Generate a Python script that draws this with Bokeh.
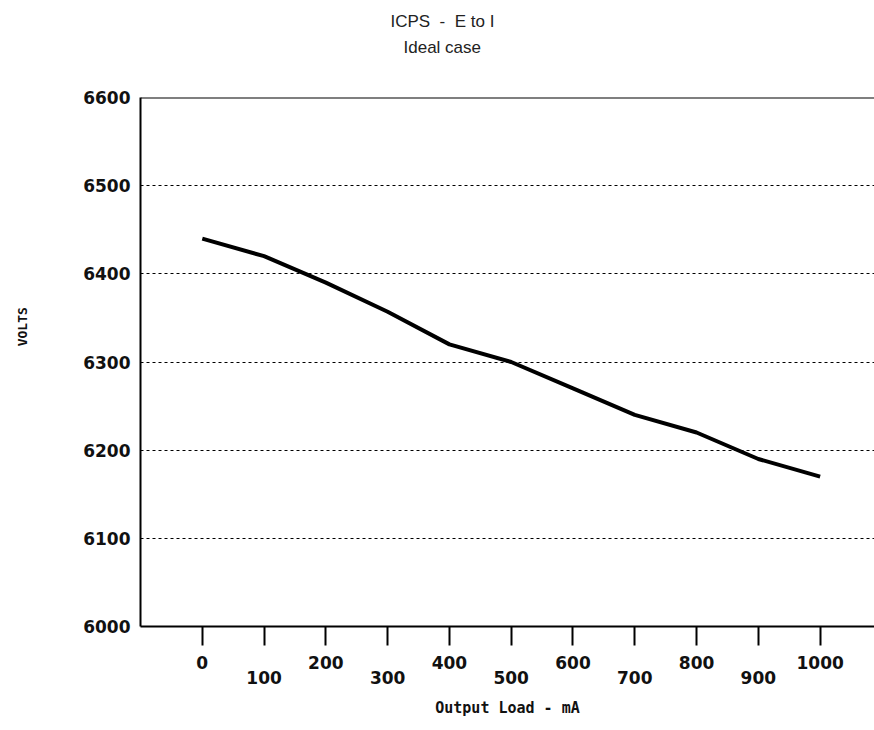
from bokeh.plotting import figure
from bokeh.models import Span, FixedTicker, Range1d, Title
from bokeh.embed import file_html
from bokeh.resources import INLINE

# data
load_ma = [0, 100, 200, 300, 400, 500, 600, 700, 800, 900, 1000]
volts = [6440, 6420, 6390, 6357, 6320, 6300, 6270, 6240, 6220, 6190, 6170]
x_ticks = [0, 100, 200, 300, 400, 500, 600, 700, 800, 900, 1000]
y_ticks = [6000, 6100, 6200, 6300, 6400, 6500, 6600]
grid_ticks = [6100, 6200, 6300, 6400, 6500]
title_lines = ["ICPS\u00a0\u00a0-\u00a0\u00a0E to I", "Ideal case"]

NB = "\u00a0"
W, H = 874, 730
p = figure(width=W, height=H, output_backend="svg", toolbar_location=None,
           x_range=Range1d(-100, 1088), y_range=Range1d(6000, 6600),
           min_border_left=140, min_border_right=0, min_border_top=97,
           min_border_bottom=104)
p.outline_line_color = None
p.background_fill_color = "white"
p.border_fill_color = "white"

p.line(load_ma, volts, line_color="black", line_width=4)

# grid
p.xgrid.visible = False
p.ygrid.ticker = FixedTicker(ticks=grid_ticks)
p.ygrid.grid_line_color = "black"
p.ygrid.grid_line_dash = "3 3"
p.ygrid.grid_line_width = 1

# top border
p.add_layout(Span(location=6600, dimension="width", line_color="black", line_width=2))

tick_font = "DejaVu Sans"
# y axis
p.yaxis.ticker = FixedTicker(ticks=y_ticks)
p.yaxis.major_tick_out = 0
p.yaxis.major_tick_in = 0
p.yaxis.minor_tick_out = 0
p.yaxis.minor_tick_in = 0
p.yaxis.axis_line_width = 2
p.yaxis.axis_line_color = "black"
p.yaxis.major_label_standoff = 10
p.yaxis.major_label_text_font = tick_font
p.yaxis.major_label_text_font_style = "bold"
p.yaxis.major_label_text_font_size = "17px"
p.yaxis.major_label_text_color = "#111111"
p.yaxis.axis_label = NB * 9 + "VOLTS"
p.yaxis.axis_label_standoff = 50
p.yaxis.axis_label_text_font = "DejaVu Sans Mono"
p.yaxis.axis_label_text_font_style = "bold"
p.yaxis.axis_label_text_font_size = "13px"
p.yaxis.axis_label_text_color = "#111111"

# x axis
p.xaxis.ticker = FixedTicker(ticks=x_ticks)
p.xaxis.major_tick_out = 19
p.xaxis.major_tick_in = 0
p.xaxis.minor_tick_out = 0
p.xaxis.minor_tick_in = 0
p.xaxis.major_tick_line_width = 2
p.xaxis.axis_line_width = 2
p.xaxis.axis_line_color = "black"
p.xaxis.major_label_standoff = 7
p.xaxis.major_label_text_font = tick_font
p.xaxis.major_label_text_font_style = "bold"
p.xaxis.major_label_text_font_size = "17px"
p.xaxis.major_label_text_line_height = 0.75
p.xaxis.major_label_text_color = "#111111"
p.xaxis.major_label_overrides = {t: (str(t) if i % 2 == 0 else "\n" + str(t))
                                 for i, t in enumerate(x_ticks)}
p.xaxis.axis_label = "Output Load - mA"
p.xaxis.axis_label_standoff = 8
p.xaxis.axis_label_text_font = "DejaVu Sans Mono"
p.xaxis.axis_label_text_font_style = "bold"
p.xaxis.axis_label_text_font_size = "15px"
p.xaxis.axis_label_text_color = "#111111"

# title lines (stacked above the frame; later ones sit higher)
p.add_layout(Title(text=" ", text_font_size="23px"), "above")
p.add_layout(Title(text=title_lines[1], align="left", offset=263, standoff=5,
                   text_font="Liberation Sans", text_font_style="normal",
                   text_font_size="17px", text_color="#222222"), "above")
p.add_layout(Title(text=title_lines[0], align="left", offset=250, standoff=5,
                   text_font="Liberation Sans", text_font_style="normal",
                   text_font_size="17px", text_color="#222222"), "above")

open("out.html", "w").write(file_html(p, INLINE))
